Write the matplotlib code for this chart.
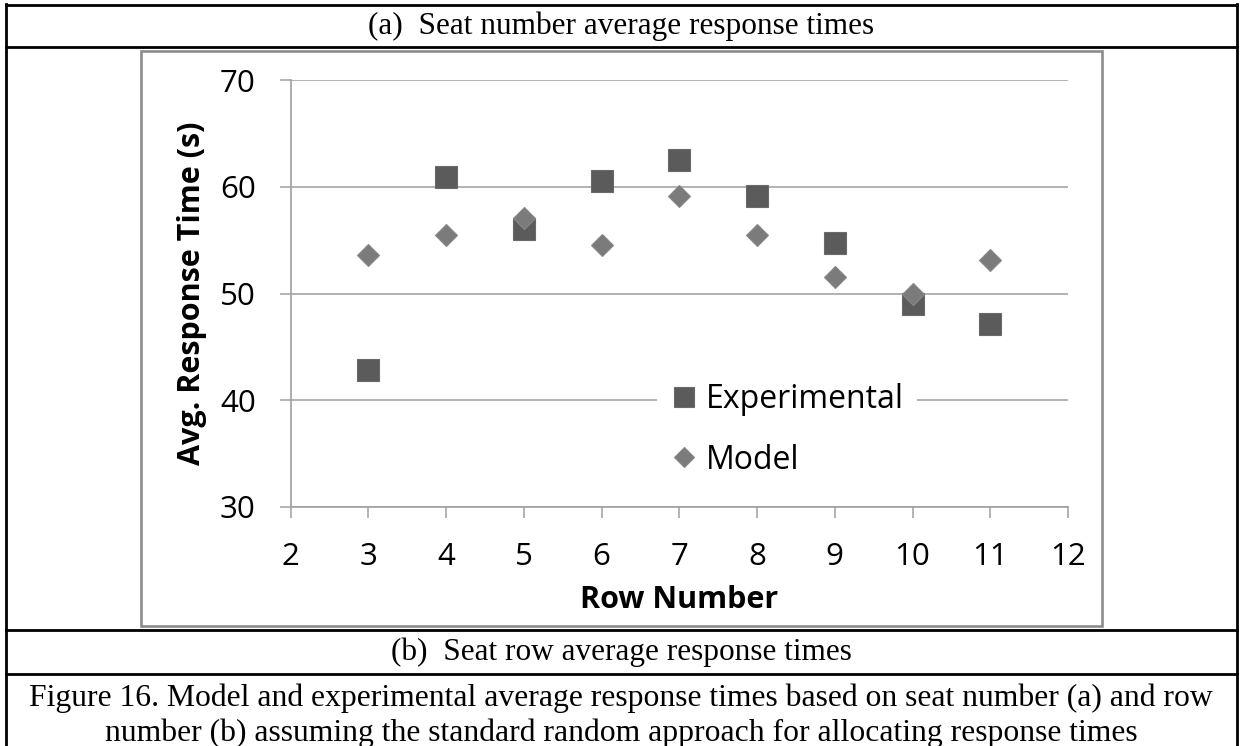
import matplotlib.pyplot as plt
from matplotlib.lines import Line2D
from matplotlib.patches import Rectangle

# data
rows = [3, 4, 5, 6, 7, 8, 9, 10, 11]
experimental = [42.8, 60.9, 56.0, 60.5, 62.5, 59.1, 54.7, 49.0, 47.1]
model = [53.6, 55.5, 57.1, 54.5, 59.1, 55.5, 51.5, 50.0, 53.1]
x_ticks = [2, 3, 4, 5, 6, 7, 8, 9, 10, 11, 12]
y_ticks = [30, 40, 50, 60, 70]

W, H = 1240, 746


def fx(px):
    return px / W


def fy(py):
    return 1 - py / H


fig = plt.figure(figsize=(W / 100, H / 100), dpi=100)

sans = ['Open Sans', 'DejaVu Sans']
serif = ['Liberation Serif', 'DejaVu Serif']
grey = '#a0a0a0'

# axes placed by pixel position of the plot area
ax = fig.add_axes([fx(290.5), fy(507), (1068 - 290.5) / W, (507 - 80) / H])

ax.plot(rows, experimental, linestyle='none', marker='s', ms=15.5,
        mfc='#5b5b5b', mec='#6a6a6a', mew=0.8, zorder=3)
ax.plot(rows, model, linestyle='none', marker='D', ms=11.5,
        mfc='#7b7b7b', mec='#888888', mew=0.8, zorder=3)

ax.set_xlim(2, 12)
ax.set_ylim(30, 70)
ax.set_xticks(x_ticks)
ax.set_yticks(y_ticks)
ax.set_xticklabels([str(t) for t in x_ticks], family=sans, fontsize=22.5)
ax.set_yticklabels([str(t) for t in y_ticks], family=sans, fontsize=22.5)
ax.tick_params(axis='x', direction='out', length=8, width=1.1, color=grey, pad=17)
ax.tick_params(axis='y', direction='out', length=8, width=1.1, color=grey, pad=17)

ax.yaxis.grid(True, color='#a6a6a6', lw=1.2)
ax.set_axisbelow(True)
for side in ['top', 'right']:
    ax.spines[side].set_visible(False)
for side in ['left', 'bottom']:
    ax.spines[side].set_color(grey)
    ax.spines[side].set_linewidth(1.2)

ax.set_xlabel('Row Number', family=sans, fontsize=22, fontweight='bold', va='center')
ax.xaxis.set_label_coords(0.5, (507 - 600) / 427)
ax.set_ylabel('Avg. Response Time (s)', family=sans, fontsize=22, fontweight='bold', va='center')
ax.yaxis.set_label_coords((192 - 290.5) / 777.5, 0.5)

handles = [
    Line2D([], [], linestyle='none', marker='s', ms=15, mfc='#5b5b5b', mec='#6a6a6a', mew=0.8),
    Line2D([], [], linestyle='none', marker='D', ms=10.5, mfc='#7b7b7b', mec='#888888', mew=0.8),
]
leg = ax.legend(handles, ['Experimental', 'Model'], loc='center left',
                bbox_to_anchor=((657 - 290.5) / 777.5, (507 - 430) / 427),
                prop={'family': sans, 'size': 23}, numpoints=1,
                handlelength=0.9, handletextpad=0.23, borderpad=0.4,
                labelspacing=0.85, borderaxespad=0, frameon=True, fancybox=False)
leg.get_frame().set_facecolor('white')
leg.get_frame().set_edgecolor('none')
leg.get_frame().set_alpha(1)

# grey chart border
fig.patches.append(Rectangle((fx(141), fy(626)), (1102 - 141) / W, (626 - 51) / H,
                             transform=fig.transFigure, fill=False,
                             edgecolor='#8c8c8c', lw=1.9))

# black table lines
for y in [5, 47, 630, 674]:
    fig.add_artist(Line2D([fx(6), fx(1237)], [fy(y), fy(y)], color='black', lw=2.0,
                          transform=fig.transFigure))
for x in [6, 1237]:
    fig.add_artist(Line2D([fx(x), fx(x)], [fy(4), fy(746)], color='black', lw=2.0,
                          transform=fig.transFigure))

fig.text(fx(621), fy(26), '(a)  Seat number average response times',
         family=serif, fontsize=22.5, ha='center', va='center')
fig.text(fx(621), fy(652), '(b)  Seat row average response times',
         family=serif, fontsize=22.5, ha='center', va='center')
fig.text(fx(621), fy(698),
         'Figure 16. Model and experimental average response times based on seat number (a) and row',
         family=serif, fontsize=22.8, ha='center', va='center')
fig.text(fx(621), fy(733),
         'number (b) assuming the standard random approach for allocating response times',
         family=serif, fontsize=22.8, ha='center', va='center')

fig.savefig('out.png', dpi=100)
